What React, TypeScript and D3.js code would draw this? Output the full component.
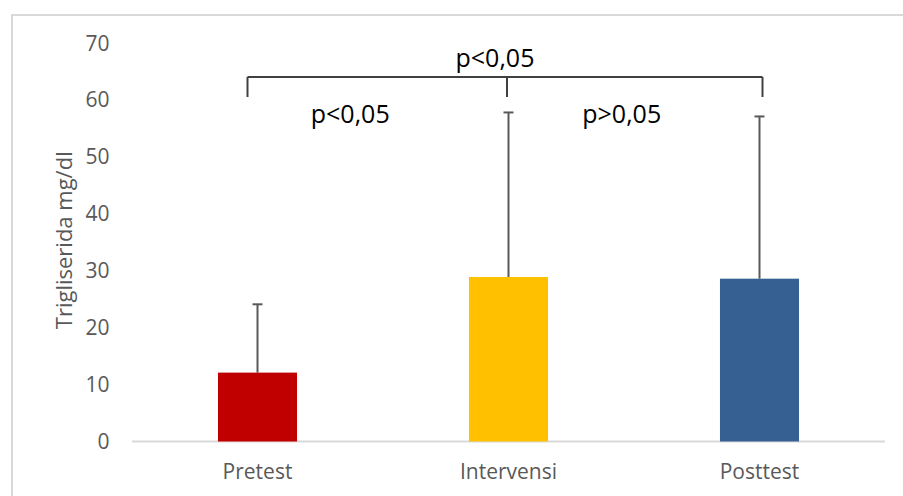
import * as d3 from "d3";
import React, { useRef, useEffect } from "react";

// data
const categories = ["Pretest", "Intervensi", "Posttest"];
const means = [12.1, 28.9, 28.6];
const errors = [12.0, 28.9, 28.5];
const colors = ["#C00000", "#FFC000", "#376092"];
const yTicks = [0, 10, 20, 30, 40, 50, 60, 70];
const pLabels = ["p<0,05", "p<0,05", "p>0,05"];

export default function App() {
  const svgRef = useRef<SVGSVGElement>(null);
  const width = 903;
  const height = 496;
  const marginLeft = 132;
  const marginRight = 18;
  const yTop = 43;
  const yBottom = 441.5;
  const font = "'Open Sans', sans-serif";

  useEffect(() => {
    const svg = d3.select(svgRef.current);
    svg.selectAll("*").remove();

    // chart border (runs off the right and bottom edges)
    svg.append("rect")
      .attr("x", 12)
      .attr("y", 15)
      .attr("width", width + 20)
      .attr("height", height + 20)
      .attr("fill", "white")
      .attr("stroke", "#d9d9d9")
      .attr("stroke-width", 2);

    const xScale = d3.scaleBand()
      .domain(categories)
      .range([marginLeft, width - marginRight])
      .paddingInner(0.685)
      .paddingOuter(0.3425);

    const yScale = d3.scaleLinear()
      .domain([0, 70])
      .range([yBottom, yTop]);

    // y tick labels (no axis line, no gridlines)
    svg.append("g")
      .selectAll("text")
      .data(yTicks)
      .enter()
      .append("text")
      .attr("x", 109.5)
      .attr("y", d => yScale(d))
      .attr("dy", "0.36em")
      .attr("text-anchor", "end")
      .style("font-family", font)
      .style("font-size", 21)
      .style("fill", "#595959")
      .text(d => d);

    // x axis line
    svg.append("line")
      .attr("x1", marginLeft)
      .attr("x2", width - marginRight)
      .attr("y1", yScale(0))
      .attr("y2", yScale(0))
      .attr("stroke", "#d9d9d9")
      .attr("stroke-width", 2);

    // category labels
    svg.append("g")
      .selectAll("text")
      .data(categories)
      .enter()
      .append("text")
      .attr("x", d => xScale(d)! + xScale.bandwidth() / 2)
      .attr("y", 479)
      .attr("text-anchor", "middle")
      .style("font-family", font)
      .style("font-size", 21)
      .style("fill", "#595959")
      .text(d => d);

    // y title
    svg.append("text")
      .attr("transform", `translate(72, ${(yTop + yBottom) / 2 - 2}) rotate(-90)`)
      .attr("text-anchor", "middle")
      .style("font-family", font)
      .style("font-size", 22)
      .style("fill", "#595959")
      .text("Trigliserida mg/dl");

    // error bars (upper only, drawn behind bars)
    const err = svg.append("g");
    categories.forEach((c, i) => {
      const cx = xScale(c)! + xScale.bandwidth() / 2;
      const top = yScale(means[i] + errors[i]);
      err.append("line")
        .attr("x1", cx).attr("x2", cx)
        .attr("y1", yScale(means[i])).attr("y2", top)
        .attr("stroke", "#595959").attr("stroke-width", 2);
      err.append("line")
        .attr("x1", cx - 5).attr("x2", cx + 5)
        .attr("y1", top).attr("y2", top)
        .attr("stroke", "#595959").attr("stroke-width", 2);
    });

    // bars
    svg.append("g")
      .selectAll("rect")
      .data(means)
      .enter()
      .append("rect")
      .attr("x", (d, i) => xScale(categories[i])!)
      .attr("y", d => yScale(d))
      .attr("width", xScale.bandwidth())
      .attr("height", d => yScale(0) - yScale(d))
      .attr("fill", (d, i) => colors[i]);

    // significance bracket
    const cx = (i: number) => xScale(categories[i])! + xScale.bandwidth() / 2;
    const bx = [cx(0) - 10, cx(1) - 1.5, cx(2) + 3];
    const bracketY = 77;
    svg.append("line")
      .attr("x1", bx[0]).attr("x2", bx[2])
      .attr("y1", bracketY).attr("y2", bracketY)
      .attr("stroke", "#000").attr("stroke-width", 1.3);
    bx.forEach(x => {
      svg.append("line")
        .attr("x1", x).attr("x2", x)
        .attr("y1", bracketY).attr("y2", bracketY + 20)
        .attr("stroke", "#404040").attr("stroke-width", 2);
    });

    const pPos = [
      [(bx[0] + bx[2]) / 2 - 10, 67],
      [(bx[0] + bx[1]) / 2 - 27, 123],
      [(bx[1] + bx[2]) / 2 - 13, 123],
    ];
    svg.append("g")
      .selectAll("text")
      .data(pLabels)
      .enter()
      .append("text")
      .attr("x", (d, i) => pPos[i][0])
      .attr("y", (d, i) => pPos[i][1])
      .attr("text-anchor", "middle")
      .style("font-family", font)
      .style("font-size", 25)
      .style("fill", "#000")
      .text(d => d);
  }, []);

  return (
    <svg
      ref={svgRef}
      width={width}
      height={height}
      style={{ position: "absolute", left: 0, top: 0, display: "block", overflow: "hidden" }}
    />
  );
}
